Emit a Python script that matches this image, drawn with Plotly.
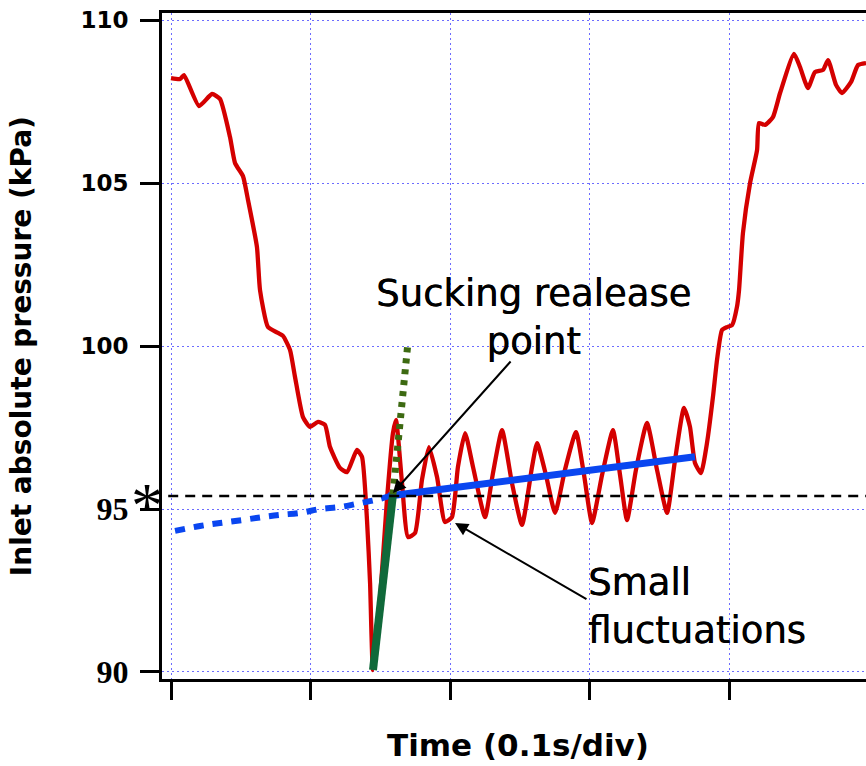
import plotly.graph_objects as go

# Time axis in divisions (0.1 s per division), pressure in kPa
red_t = [0.000, 0.065, 0.093, 0.201, 0.294, 0.351, 0.423, 0.459, 0.516, 0.552,
         0.616, 0.638, 0.695, 0.767, 0.803, 0.853, 0.889, 0.946, 0.996, 1.054,
         1.104, 1.140, 1.211, 1.262, 1.333, 1.369, 1.405, 1.427, 1.448, 1.498,
         1.548, 1.591, 1.613, 1.656, 1.699, 1.749, 1.799, 1.849, 1.907, 1.964,
         2.014, 2.057, 2.108, 2.165, 2.251, 2.308, 2.373, 2.444, 2.516, 2.588,
         2.624, 2.688, 2.753, 2.824, 2.903, 2.961, 3.018, 3.090, 3.168, 3.219,
         3.269, 3.333, 3.412, 3.484, 3.556, 3.613, 3.677, 3.720, 3.756, 3.799,
         3.842, 3.885, 3.914, 3.950, 3.986, 4.022, 4.057, 4.072, 4.100, 4.151,
         4.201, 4.215, 4.258, 4.315, 4.366, 4.466, 4.509, 4.566, 4.616, 4.674,
         4.710, 4.767, 4.810, 4.875, 4.925, 4.982]
red_p = [108.22, 108.19, 108.31, 107.36, 107.73, 107.58, 106.41, 105.61, 105.21, 104.48,
         103.04, 101.72, 100.58, 100.40, 100.31, 99.88, 99.05, 97.82, 97.52, 97.67,
         97.58, 96.90, 96.26, 96.13, 96.81, 96.60, 94.66, 92.73, 90.06, 92.21,
         95.28, 97.33, 97.73, 95.80, 94.14, 94.26, 95.89, 96.90, 95.98, 94.60,
         94.75, 96.29, 97.33, 96.29, 94.75, 96.10, 97.42, 95.80, 94.51, 96.29,
         97.02, 96.04, 94.88, 96.20, 97.36, 96.04, 94.57, 96.04, 97.42, 96.04,
         94.66, 96.20, 97.64, 96.20, 94.88, 96.50, 98.10, 97.52, 96.41, 96.10,
         97.02, 98.44, 99.57, 100.49, 100.58, 100.64, 101.20, 101.72, 103.47, 105.00,
         106.01, 106.84, 106.78, 107.02, 107.76, 108.96, 108.56, 107.91, 108.40, 108.47,
         108.77, 108.01, 107.76, 108.10, 108.62, 108.68]

# Slow recovery trend (extrapolated part dotted, fitted part solid)
trend_ext_t = [0.029, 0.208, 0.351, 0.509, 0.652, 0.781, 0.925, 1.068, 1.211, 1.355, 1.498, 1.591]
trend_ext_p = [94.33, 94.48, 94.57, 94.66, 94.75, 94.82, 94.88, 95.00, 95.06, 95.18, 95.31, 95.44]
trend_fit_t = [1.560, 3.756]
trend_fit_p = [95.40, 96.60]

# Fast rise after the minimum (fitted part solid, extension dotted)
rise_fit_t = [1.448, 1.591]
rise_fit_p = [90.06, 95.44]
rise_ext_t = [1.591, 1.699]
rise_ext_p = [95.44, 100.12]

# Release pressure level
release_p = 95.40
release_t = [-0.02, 4.99]

y_ticks_sans = [100, 105, 110]
y_ticks_serif = [90, 95]
y_ticks = y_ticks_serif + y_ticks_sans
x_ticks = [0, 1, 2, 3, 4]

RED = "#d40000"
BLUE = "#0a46f0"
GREEN = "#10693a"
OLIVE = "#3d6a12"
GRID = "#6c6cff"
Y_RANGE = [89.785, 110.215]
THICKEN = "0.5px 0 0 black"

fig = go.Figure()
fig.add_trace(go.Scatter(x=red_t, y=red_p, mode="lines",
                         line=dict(color=RED, width=4.3, shape="spline", smoothing=0.5)))
fig.add_trace(go.Scatter(x=trend_ext_t, y=trend_ext_p, mode="lines",
                         line=dict(color=BLUE, width=6, dash="10px,9px", shape="spline")))
fig.add_trace(go.Scatter(x=trend_fit_t, y=trend_fit_p, mode="lines",
                         line=dict(color=BLUE, width=7)))
fig.add_trace(go.Scatter(x=rise_fit_t, y=rise_fit_p, mode="lines",
                         line=dict(color=GREEN, width=8)))
fig.add_trace(go.Scatter(x=rise_ext_t, y=rise_ext_p, mode="lines",
                         line=dict(color=OLIVE, width=7, dash="5px,6px")))
# release level drawn against the serif-labelled overlay axis (same scale)
fig.add_trace(go.Scatter(x=release_t, y=[release_p, release_p], mode="lines", yaxis="y2",
                         line=dict(color="black", width=2.5, dash="10px,7px")))

tick_text = ["" if v in y_ticks_serif else str(v) for v in y_ticks]

fig.update_layout(
    width=866, height=766,
    margin=dict(l=162, r=0, t=13, b=87),
    plot_bgcolor="white", paper_bgcolor="white",
    showlegend=False,
    xaxis=dict(range=[-0.0645, 4.982], tickvals=x_ticks, showticklabels=False,
               ticks="outside", ticklen=18, tickwidth=3, tickcolor="black",
               showline=True, linecolor="black", linewidth=3, mirror=True,
               showgrid=True, gridcolor=GRID, gridwidth=1, griddash="2px,3px",
               zeroline=False),
    yaxis=dict(range=Y_RANGE, tickvals=y_ticks, ticktext=tick_text,
               ticks="outside", ticklen=19, tickwidth=3, tickcolor="black",
               tickfont=dict(family="DejaVu Sans", size=23, color="black", weight="bold"),
               ticklabelstandoff=7,
               showline=True, linecolor="black", linewidth=3,
               showgrid=True, gridcolor=GRID, gridwidth=1, griddash="2px,3px",
               zeroline=False),
    yaxis2=dict(range=Y_RANGE, overlaying="y", anchor="x", side="left",
                tickvals=y_ticks_serif, ticks="outside", ticklen=19, tickwidth=3,
                tickcolor="black",
                tickfont=dict(family="Liberation Serif", size=32, color="black", weight="bold"),
                ticklabelstandoff=7,
                showline=False, showgrid=False, zeroline=False),
)

fig.add_annotation(text="Inlet absolute pressure (kPa)", xref="paper", yref="paper",
                   x=-0.2, y=0.5, xanchor="center", yanchor="middle",
                   textangle=-90, showarrow=False,
                   font=dict(family="DejaVu Sans", size=28, color="black", weight="bold"))
fig.add_annotation(text="Time (0.1s/div)", xref="paper", yref="paper",
                   x=0.506, y=-0.099, xanchor="center", yanchor="middle", showarrow=False,
                   font=dict(family="DejaVu Sans", size=31, color="black", weight="bold"))
fig.add_annotation(text="*", xref="paper", x=-0.0213, y=release_p,
                   xanchor="center", yanchor="middle", yshift=-10, showarrow=False,
                   font=dict(family="Liberation Serif", size=64, color="black"))

fig.add_annotation(text="Sucking realease<br>point", x=2.595, y=100.86,
                   xanchor="center", yanchor="middle", showarrow=False,
                   font=dict(family="DejaVu Sans", size=37, color="black", shadow=THICKEN))
fig.add_annotation(text="", x=1.591, y=95.49, ax=2.444, ay=99.57, axref="x", ayref="y",
                   showarrow=True, arrowhead=2, arrowsize=1.3, arrowwidth=2, arrowcolor="black")
fig.add_annotation(text="Small<br>fluctuations", x=2.975, y=92.02,
                   xanchor="left", yanchor="middle", align="left", showarrow=False,
                   font=dict(family="DejaVu Sans", size=37, color="black", shadow=THICKEN))
fig.add_annotation(text="", x=2.036, y=94.57, ax=2.989, ay=92.21, axref="x", ayref="y",
                   showarrow=True, arrowhead=2, arrowsize=1.3, arrowwidth=2, arrowcolor="black")

fig.write_html("out.html")
